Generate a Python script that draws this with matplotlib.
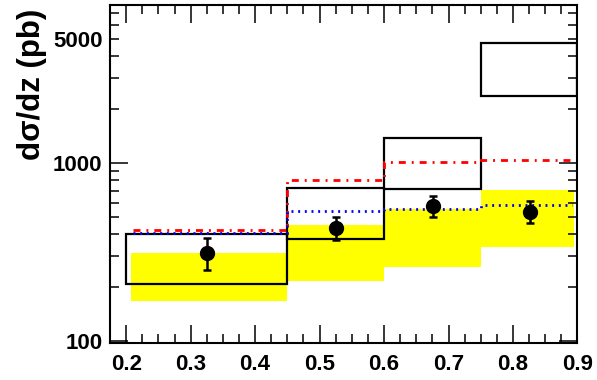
import matplotlib
matplotlib.use("Agg")
import matplotlib.pyplot as plt
from matplotlib.patches import Rectangle
from matplotlib.ticker import FixedLocator, FuncFormatter
import numpy as np

plt.rcParams['font.family'] = ['Liberation Sans', 'DejaVu Sans']
plt.rcParams['font.weight'] = 'bold'
plt.rcParams['lines.scale_dashes'] = False

# z bins
bin_edges = [0.2, 0.45, 0.6, 0.75, 0.9]

# theory uncertainty band (yellow)
band_edges = [0.208, 0.45, 0.6, 0.75, 0.894]
band_low = [167, 216, 262, 339]
band_high = [312, 448, 553, 705]

# open boxes
box_low = [210, 373, 719, 2380]
box_high = [398, 727, 1382, 4700]

# model curves (step histograms)
curve_edges = [0.21, 0.45, 0.6, 0.75, 0.892]
red_curve = [420, 800, 1009, 1035]
blue_curve = [403, 540, 554, 581]

# measured points
data_z = [0.325, 0.526, 0.676, 0.826]
data_val = [312, 433, 573, 531]
data_err_lo = [249, 369, 499, 458]
data_err_hi = [378, 495, 653, 614]

fig = plt.figure(figsize=(5.97, 3.80), dpi=100)
ax = fig.add_axes([0.1843, 0.0966, 0.7830, 0.8894])

ax.set_yscale('log')
ax.set_xlim(0.175, 0.9)
ax.set_ylim(97.1, 7690)

for i in range(4):
    ax.add_patch(Rectangle((band_edges[i], band_low[i]),
                           band_edges[i + 1] - band_edges[i],
                           band_high[i] - band_low[i],
                           facecolor='#ffff00', edgecolor='none', zorder=1))

for i in range(4):
    ax.add_patch(Rectangle((bin_edges[i], box_low[i]),
                           bin_edges[i + 1] - bin_edges[i],
                           box_high[i] - box_low[i],
                           facecolor='none', edgecolor='black',
                           linewidth=1.6, zorder=2))

ax.stairs(red_curve, curve_edges, color='#ff0000', linewidth=2.0,
          linestyle=(0, (5.0, 4.3, 1.4, 4.3)), zorder=3, baseline=None)
ax.stairs(blue_curve, curve_edges, color='#0000ff', linewidth=2.0,
          linestyle=(0, (1.4, 3.4)), zorder=3, baseline=None)

yerr = [np.array(data_val) - np.array(data_err_lo),
        np.array(data_err_hi) - np.array(data_val)]
ax.errorbar(data_z, data_val, yerr=yerr, fmt='o', color='black',
            markersize=10, elinewidth=1.8, capsize=3.0, capthick=1.8,
            zorder=4)

# axis ticks
ax.xaxis.set_major_locator(FixedLocator([0.2, 0.3, 0.4, 0.5, 0.6, 0.7, 0.8, 0.9]))
ax.xaxis.set_minor_locator(FixedLocator(np.arange(0.175, 0.9001, 0.025)))
ax.xaxis.set_major_formatter(FuncFormatter(lambda v, p: f"{v:.1f}"))

ax.yaxis.set_major_locator(FixedLocator([100, 1000]))
minor_y = [m * d for d in (100, 1000) for m in range(2, 10)]
ax.yaxis.set_minor_locator(FixedLocator(minor_y))
ax.yaxis.set_major_formatter(FuncFormatter(lambda v, p: f"{int(round(v))}"))
ax.yaxis.set_minor_formatter(FuncFormatter(lambda v, p: "5000" if abs(v - 5000) < 1 else ""))

ax.tick_params(which='both', direction='in', top=True, right=True,
               width=1.1, labelsize=16)
ax.tick_params(which='major', length=13)
ax.tick_params(which='minor', length=6.5)
ax.tick_params(axis='x', which='both', pad=8)
ax.tick_params(axis='y', which='both', pad=5.5)

for s in ax.spines.values():
    s.set_linewidth(1.5)

ax.text(-0.167, 0.989, 'dσ/dz (pb)', transform=ax.transAxes, rotation=90,
        ha='center', va='top', fontsize=22.5, fontweight='bold')

fig.savefig('out.png', dpi=100)
